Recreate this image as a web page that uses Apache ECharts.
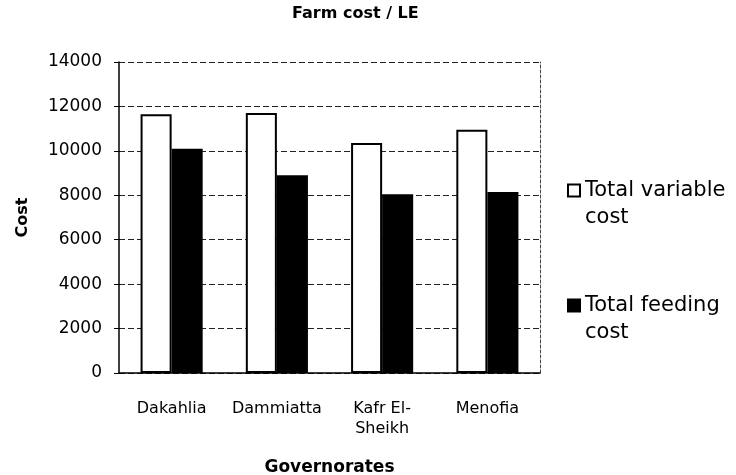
<!DOCTYPE html>
<html>
<head>
<meta charset="utf-8">
<script src="https://cdn.jsdelivr.net/npm/echarts@6/dist/echarts.min.js"></script>
<style>html,body{margin:0;padding:0;background:#fff;}#c{width:736px;height:475px;}</style>
</head>
<body>
<div id="c"></div>
<script>
const categories = ['Dakahlia', 'Dammiatta', 'Kafr El-\nSheikh', 'Menofia'];
const totalVariableCost = [11650, 11700, 10350, 10950];
const totalFeedingCost = [10100, 8900, 8050, 8150];
const yTicks = [0, 2000, 4000, 6000, 8000, 10000, 12000, 14000];
const seriesNames = ['Total variable\ncost', 'Total feeding\ncost'];

const chart = echarts.init(document.getElementById('c'));
chart.setOption({
  animation: false,
  backgroundColor: '#fff',
  title: {
    text: 'Farm cost / LE',
    left: 292, top: 6, padding: 0,
    textStyle: { fontFamily: 'DejaVu Sans', fontWeight: 'bold', fontSize: 16, color: '#000' }
  },
  legend: {
    orient: 'vertical',
    left: 567, top: 150,
    padding: 0,
    itemWidth: 12, itemHeight: 12, itemGap: 34,
    icon: 'rect',
    data: seriesNames,
    formatter: function (n) { return '\n' + n; },
    textStyle: { fontFamily: 'DejaVu Sans', fontSize: 21, color: '#000', lineHeight: 27 }
  },
  grid: { left: 119, right: 196, top: 62, bottom: 102, containLabel: false, outerBoundsMode: 'none' },
  xAxis: {
    type: 'category',
    data: categories,
    name: 'Governorates',
    nameLocation: 'middle',
    nameGap: 86,
    nameTextStyle: { fontFamily: 'DejaVu Sans', fontWeight: 'bold', fontSize: 17, color: '#000' },
    axisLine: { lineStyle: { color: '#000', width: 1.5 } },
    axisTick: { show: false },
    axisLabel: { interval: 0, fontFamily: 'DejaVu Sans', fontSize: 16, color: '#000', margin: 26, lineHeight: 20 }
  },
  yAxis: [{
    type: 'value',
    min: 0, max: 14000, interval: 2000,
    name: 'Cost',
    nameLocation: 'middle',
    nameGap: 88,
    nameRotate: 90,
    nameTextStyle: { fontFamily: 'DejaVu Sans', fontWeight: 'bold', fontSize: 16, color: '#000' },
    axisLine: { show: true, lineStyle: { color: '#000', width: 1.5 } },
    axisTick: { show: true, length: 5, lineStyle: { color: '#000' } },
    axisLabel: { fontFamily: 'DejaVu Sans', fontSize: 17, color: '#000', margin: 17,
      formatter: function (v) { return yTicks.indexOf(v) >= 0 ? String(v) : ''; } },
    splitLine: { show: true, lineStyle: { color: '#222', type: [6, 3], width: 1 } }
  }, {
    type: 'value',
    min: 0, max: 14000, interval: 2000,
    position: 'right',
    axisLine: { show: true, lineStyle: { color: '#444', type: [3, 2], width: 1 } },
    axisTick: { show: false },
    axisLabel: { show: false },
    splitLine: { show: false }
  }],
  series: [{
    name: seriesNames[0],
    type: 'bar',
    data: totalVariableCost,
    barGap: '0%',
    barCategoryGap: '41%',
    itemStyle: { color: '#fff', borderColor: '#000', borderWidth: 2 }
  }, {
    name: seriesNames[1],
    type: 'bar',
    data: totalFeedingCost,
    itemStyle: { color: '#000', borderColor: '#000', borderWidth: 2 }
  }]
});
</script>
</body>
</html>
